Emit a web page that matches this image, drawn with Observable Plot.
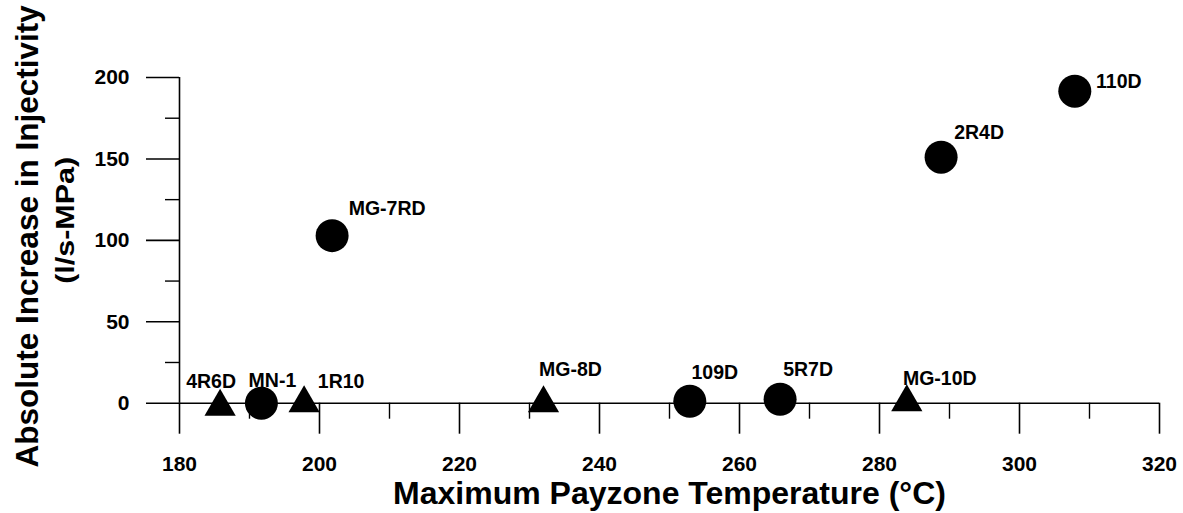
<!DOCTYPE html>
<html>
<head>
<meta charset="utf-8">
<script src="https://cdn.jsdelivr.net/npm/d3@7"></script>
<script src="https://cdn.jsdelivr.net/npm/@observablehq/plot@0.6"></script>
<style>
  body { margin: 0; background: #fff; }
  #chart svg { display: block; }
</style>
</head>
<body>
<div id="chart"></div>
<script>
// ---- data ----
const wells = ["4R6D", "MN-1", "1R10", "MG-7RD", "MG-8D", "109D", "5R7D", "MG-10D", "2R4D", "110D"];
const temperature = [185.8, 191.7, 197.8, 201.8, 232.0, 252.9, 265.8, 283.9, 288.8, 307.9];
const injectivityIncrease = [-2.2, 0, 0, 102.9, 0, 1.2, 2.4, 0.6, 151.1, 191.6];
const markerShape = ["triangle", "circle", "triangle", "circle", "triangle", "circle", "circle", "triangle", "circle", "circle"];

const xMajorTicks = [180, 200, 220, 240, 260, 280, 300, 320];
const xMinorTicks = [190, 210, 230, 250, 270, 290, 310];
const yMajorTicks = [0, 50, 100, 150, 200];
const yMinorTicks = [25, 75, 125, 175];

const xTitle = "Maximum Payzone Temperature (°C)";
const yTitle = "Absolute Increase in Injectivity";
const yUnits = "(l/s-MPa)";

// ---- layout (label offsets in pixels, not data) ----
const labelOffset = {
  "4R6D": [-9, -19], "MN-1": [11, -16], "1R10": [37, -15], "MG-7RD": [55, -21],
  "MG-8D": [27, -27], "109D": [25, -22], "5R7D": [28, -23], "MG-10D": [33, -17],
  "2R4D": [38, -18], "110D": [44, -3]
};

const rows = wells.map((w, i) => ({well: w, t: temperature[i], v: injectivityIncrease[i], shape: markerShape[i]}));

const font = "Liberation Sans, Arial, Helvetica, sans-serif";

const labelMarks = rows.map(d => Plot.text([d], {
  x: "t", y: "v", text: "well",
  dx: labelOffset[d.well][0], dy: labelOffset[d.well][1],
  textAnchor: "middle", lineAnchor: "bottom",
  fontSize: 19.5, fontWeight: "bold", fill: "black"
}));

const chart = Plot.plot({
  width: 1183,
  height: 513,
  marginLeft: 179,
  marginRight: 24,
  marginTop: 77,
  marginBottom: 110.3,
  style: {fontFamily: font, background: "white", color: "black"},
  x: {domain: [180, 320], axis: null},
  y: {domain: [0, 200], axis: null},
  marks: [
    Plot.ruleY([0], {stroke: "black", strokeWidth: 1.6}),
    Plot.ruleX([180], {stroke: "black", strokeWidth: 1.6}),
    Plot.axisX({ticks: xMajorTicks, anchor: "bottom", tickSize: 31, tickPadding: 22,
      fontSize: 21, fontWeight: "bold", strokeWidth: 1.6, label: null, tickFormat: d => String(d)}),
    Plot.axisX({ticks: xMinorTicks, anchor: "bottom", tickSize: 16, strokeWidth: 1.4, text: null, label: null}),
    Plot.axisY({ticks: yMajorTicks, anchor: "left", tickSize: 33, tickPadding: 17,
      fontSize: 21, fontWeight: "bold", strokeWidth: 1.6, label: null, tickFormat: d => String(d)}),
    Plot.axisY({ticks: yMinorTicks, anchor: "left", tickSize: 14, strokeWidth: 1.4, text: null, label: null}),
    Plot.dot(rows.filter(d => d.shape === "circle"), {x: "t", y: "v", r: 16.5, fill: "black", symbol: "circle"}),
    Plot.dot(rows.filter(d => d.shape === "triangle"), {x: "t", y: "v", r: 11.6, fill: "black", symbol: "triangle"}),
    ...labelMarks,
    Plot.text([xTitle], {text: d => d, frameAnchor: "bottom", dy: 101, textAnchor: "middle", lineAnchor: "bottom",
      fontSize: 32, fontWeight: "bold", fill: "black"}),
    Plot.text([yTitle], {text: d => d, frameAnchor: "left", rotate: -90, dx: -142, dy: -4, textAnchor: "middle", lineAnchor: "bottom",
      fontSize: 31.5, fontWeight: "bold", fill: "black"}),
    Plot.text([yUnits], {text: d => d, frameAnchor: "left", rotate: -90, dx: -106, dy: -20, textAnchor: "middle", lineAnchor: "bottom",
      fontSize: 25, fontWeight: "bold", fill: "black"})
  ]
});

// the reference's unit line is set wide: stretch it to its measured length
d3.select(chart).selectAll("text")
  .filter(function () { return this.textContent === yUnits; })
  .attr("textLength", 127)
  .attr("lengthAdjust", "spacingAndGlyphs");

document.getElementById("chart").appendChild(chart);
</script>
</body>
</html>
